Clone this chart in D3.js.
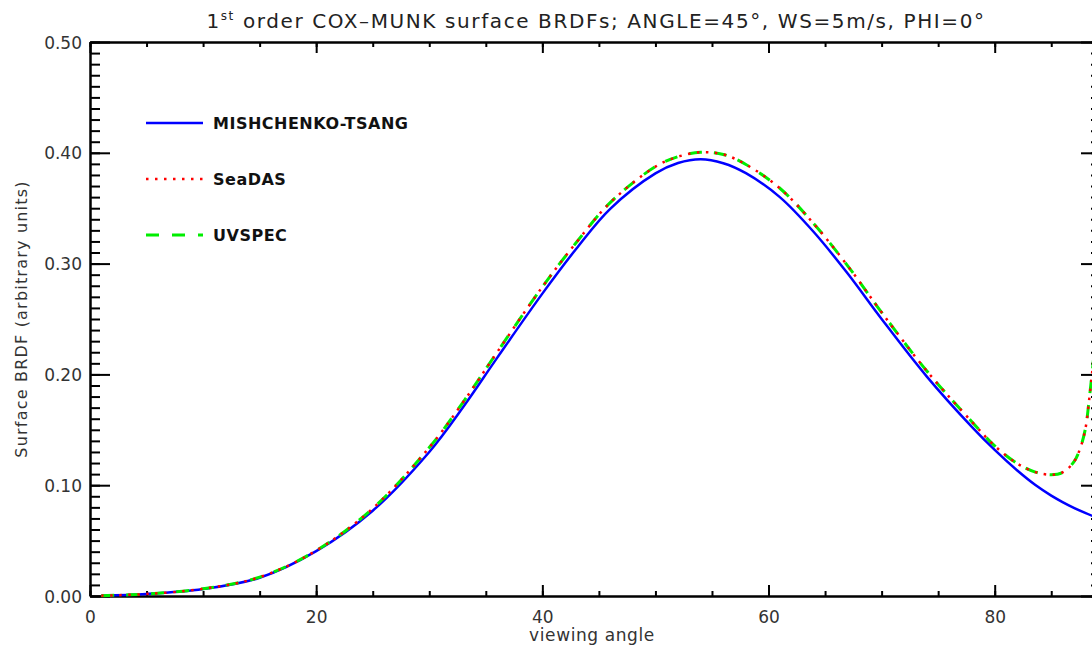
<!DOCTYPE html>
<html>
<head>
<meta charset="utf-8">
<script src="https://cdn.jsdelivr.net/npm/d3@7"></script>
<style>
  body { margin: 0; background: #fff; }
  svg { display: block; }
  .axis path, .axis line { stroke: #000; stroke-width: 2; }
  .axis text { font-family: "DejaVu Sans", sans-serif; font-size: 17px; fill: #333; }
</style>
</head>
<body>
<svg id="chart"></svg>
<script>
// viewing angles (deg) and BRDF values
const anglesMishchenko = [1, 5, 10, 15, 20, 25, 30, 33, 36, 40, 43, 46, 50, 52, 54, 56, 58, 61, 64, 67, 70, 74, 78, 80, 82, 83.6, 85, 86, 87, 88, 88.8];
const mishchenko = [0.0003, 0.0018, 0.0063, 0.0165, 0.0405, 0.077, 0.130, 0.1705, 0.2149, 0.2729, 0.3134, 0.3494, 0.3814, 0.3908, 0.3942, 0.3906, 0.3816, 0.360, 0.3285, 0.291, 0.250, 0.198, 0.1524, 0.1318, 0.1132, 0.1001, 0.0906, 0.0848, 0.0796, 0.075, 0.0716];

const anglesModels = [1, 5, 10, 15, 20, 25, 30, 33, 36, 40, 43, 46, 50, 52, 54, 56, 58, 61, 64, 67, 70, 74, 78, 80, 82, 83.6, 85, 86, 87, 87.6, 88.05, 88.35, 88.6, 88.8];
const seadas = [0.0003, 0.0018, 0.0065, 0.017, 0.041, 0.079, 0.134, 0.175, 0.220, 0.279, 0.319, 0.355, 0.3875, 0.3965, 0.4005, 0.3985, 0.3895, 0.368, 0.336, 0.298, 0.256, 0.203, 0.157, 0.1355, 0.1195, 0.1118, 0.1095, 0.1115, 0.121, 0.1345, 0.1525, 0.177, 0.200, 0.220];
const uvspec = [0.0003, 0.0018, 0.0065, 0.017, 0.041, 0.079, 0.134, 0.175, 0.220, 0.279, 0.319, 0.355, 0.3875, 0.3965, 0.4005, 0.3985, 0.3895, 0.368, 0.336, 0.298, 0.256, 0.203, 0.157, 0.1355, 0.1195, 0.1118, 0.1095, 0.1115, 0.121, 0.1345, 0.1525, 0.177, 0.200, 0.220];

const yMajor = [0, 0.1, 0.2, 0.3, 0.4, 0.5];
const xMajor = [0, 20, 40, 60, 80];

const legendNames = ["MISHCHENKO-TSANG", "SeaDAS", "UVSPEC"];

function drawChart(selector) {
    const width = 1092, height = 652;
    const margin = {left: 90, top: 42, right: 1101, bottom: 596};

    const svg = d3.select(selector)
        .attr("width", width)
        .attr("height", height);

    const x = d3.scaleLinear().domain([0, 89.4]).range([margin.left, margin.right]);
    const y = d3.scaleLinear().domain([0, 0.5]).range([margin.bottom, margin.top]);

    const yMinor = d3.range(0, 0.5001, 0.01);
    const xMinor = d3.range(0, 89.4, 5);

    // bottom axis
    svg.append("g").attr("class", "axis")
        .attr("transform", `translate(0, ${margin.bottom})`)
        .call(d3.axisBottom(x).tickValues(xMinor).tickSize(-5).tickSizeOuter(0).tickFormat(""));
    svg.append("g").attr("class", "axis")
        .attr("transform", `translate(0, ${margin.bottom})`)
        .call(d3.axisBottom(x).tickValues(xMajor).tickSize(-11).tickSizeOuter(0).tickPadding(21).tickFormat(d3.format("d")));

    // top axis
    svg.append("g").attr("class", "axis")
        .attr("transform", `translate(0, ${margin.top})`)
        .call(d3.axisTop(x).tickValues(xMinor).tickSize(-5).tickSizeOuter(0).tickFormat(""));
    svg.append("g").attr("class", "axis")
        .attr("transform", `translate(0, ${margin.top})`)
        .call(d3.axisTop(x).tickValues(xMajor).tickSize(-11).tickSizeOuter(0).tickFormat(""));

    // left axis
    svg.append("g").attr("class", "axis")
        .attr("transform", `translate(${margin.left}, 0)`)
        .call(d3.axisLeft(y).tickValues(yMinor).tickSize(-10).tickSizeOuter(0).tickFormat(""));
    svg.append("g").attr("class", "axis")
        .attr("transform", `translate(${margin.left}, 0)`)
        .call(d3.axisLeft(y).tickValues(yMajor).tickSize(-20).tickSizeOuter(0).tickPadding(8).tickFormat(d3.format(".2f")));

    // right axis
    svg.append("g").attr("class", "axis")
        .attr("transform", `translate(${margin.right}, 0)`)
        .call(d3.axisRight(y).tickValues(yMinor).tickSize(-10).tickSizeOuter(0).tickFormat(""));
    svg.append("g").attr("class", "axis")
        .attr("transform", `translate(${margin.right}, 0)`)
        .call(d3.axisRight(y).tickValues(yMajor).tickSize(-20).tickSizeOuter(0).tickFormat(""));

    svg.selectAll(".axis text").attr("dy", null);
    svg.selectAll(".axis text").attr("dominant-baseline", "central");

    const line = function (angles, values) {
        return d3.line()
            .x(function (d) { return x(d); })
            .y(function (d, i) { return y(values[i]); })
            .curve(d3.curveCatmullRom.alpha(0.5))(angles);
    };

    const series = [
        {angles: anglesMishchenko, values: mishchenko, color: "#0000ff", dash: null, width: 2.5},
        {angles: anglesModels, values: uvspec, color: "#00ee00", dash: "13 12", width: 3},
        {angles: anglesModels, values: seadas, color: "#ff0000", dash: "2.5 6.5", width: 2.5}
    ];

    svg.selectAll("path.series")
        .data(series)
        .enter()
        .append("path")
        .attr("class", "series")
        .attr("d", function (d) { return line(d.angles, d.values); })
        .style("fill", "none")
        .style("stroke", function (d) { return d.color; })
        .style("stroke-width", function (d) { return d.width; })
        .style("stroke-dasharray", function (d) { return d.dash; });

    // legend
    const legendItems = [
        {name: legendNames[0], color: "#0000ff", dash: null, width: 2.5, y: 123},
        {name: legendNames[1], color: "#ff0000", dash: "2.5 6.5", width: 2.5, y: 179},
        {name: legendNames[2], color: "#00ee00", dash: "13 13", width: 3, y: 235}
    ];
    const lg = svg.selectAll("g.legend")
        .data(legendItems)
        .enter()
        .append("g")
        .attr("class", "legend");
    lg.append("line")
        .attr("x1", 146).attr("x2", 203)
        .attr("y1", function (d) { return d.y; })
        .attr("y2", function (d) { return d.y; })
        .style("stroke", function (d) { return d.color; })
        .style("stroke-width", function (d) { return d.width; })
        .style("stroke-dasharray", function (d) { return d.dash; });
    lg.append("text")
        .attr("x", 213)
        .attr("y", function (d) { return d.y + 6; })
        .style("font-family", "DejaVu Sans, sans-serif")
        .style("font-size", "16px")
        .style("font-weight", "bold")
        .style("letter-spacing", "0.5px")
        .style("fill", "#111")
        .text(function (d) { return d.name; });

    // title
    const title = svg.append("text")
        .attr("x", 596)
        .attr("y", 28)
        .style("text-anchor", "middle")
        .style("font-family", "DejaVu Sans, sans-serif")
        .style("font-size", "20px")
        .style("letter-spacing", "1.6px")
        .style("fill", "#222");
    title.append("tspan").text("1");
    title.append("tspan").attr("dy", -8).style("font-size", "12px").text("st");
    title.append("tspan").attr("dy", 8).text(" order COX\u2013MUNK surface BRDFs; ANGLE=45\u00b0, WS=5m/s, PHI=0\u00b0");

    // axis labels
    svg.append("text")
        .attr("x", 592)
        .attr("y", 641)
        .style("text-anchor", "middle")
        .style("font-family", "DejaVu Sans, sans-serif")
        .style("font-size", "17px")
        .style("letter-spacing", "0.6px")
        .style("fill", "#333")
        .text("viewing angle");

    svg.append("text")
        .attr("transform", `translate(27, ${(margin.top + margin.bottom) / 2}) rotate(-90)`)
        .style("text-anchor", "middle")
        .style("font-family", "DejaVu Sans, sans-serif")
        .style("font-size", "16px")
        .style("letter-spacing", "1.2px")
        .style("fill", "#333")
        .text("Surface BRDF (arbitrary units)");
}

drawChart("#chart");
</script>
</body>
</html>
